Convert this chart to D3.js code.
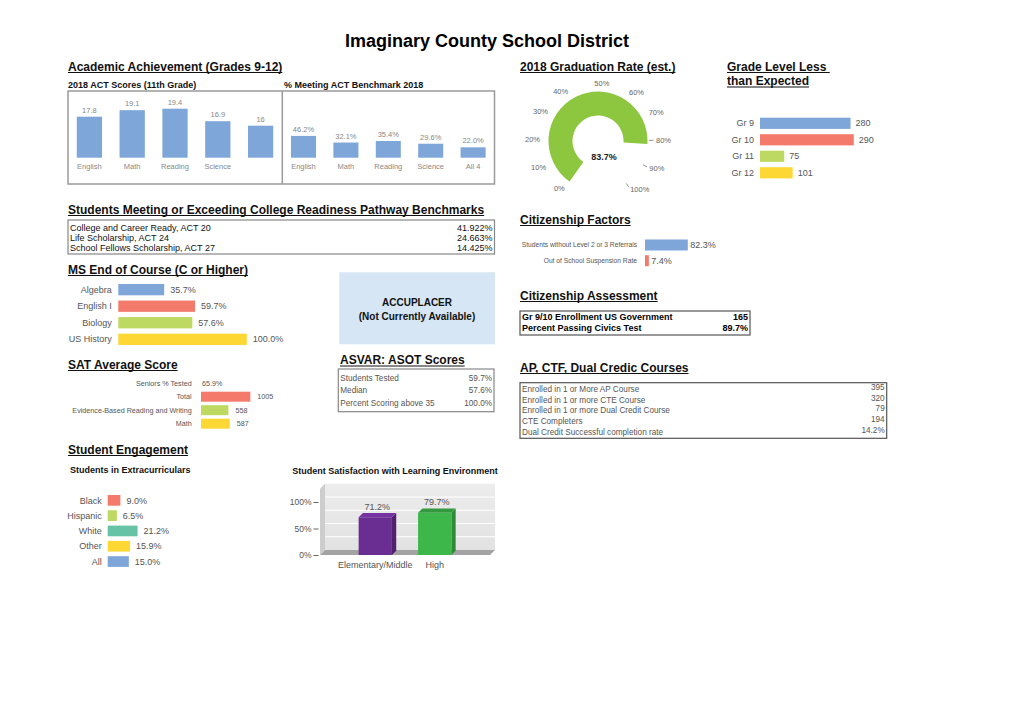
<!DOCTYPE html>
<html>
<head>
<meta charset="utf-8">
<script src="https://cdn.jsdelivr.net/npm/d3@7"></script>
<style>
  body { margin: 0; background: #fff; }
  svg { display: block; font-family: 'Liberation Sans', Arial, sans-serif; }
</style>
</head>
<body>
<svg id="chart" width="1024" height="720"></svg>
<script>
// ---- data ----
const actSubjects = ['English', 'Math', 'Reading', 'Science', ''];
const actScores = [17.8, 19.1, 19.4, 16.9, 16];
const benchSubjects = ['English', 'Math', 'Reading', 'Science', 'All 4'];
const benchPct = [46.2, 32.1, 35.4, 29.6, 22.0];

const gradRate = 83.7;
const gaugeTicks = [0, 10, 20, 30, 40, 50, 60, 70, 80, 90, 100];
const gaugeLeaders = [80, 90, 100];

const gradeLevels = ['Gr 9', 'Gr 10', 'Gr 11', 'Gr 12'];
const gradeCounts = [280, 290, 75, 101];

const readinessLabels = ['College and Career Ready, ACT 20', 'Life Scholarship, ACT 24', 'School Fellows Scholarship, ACT 27'];
const readinessPct = [41.922, 24.663, 14.425];

const msCourses = ['Algebra', 'English I', 'Biology', 'US History'];
const msPct = [35.7, 59.7, 57.6, 100.0];

const citizenLabels = ['Students without Level 2 or 3 Referrals', 'Out of School Suspension Rate'];
const citizenPct = [82.3, 7.4];

const assessLabels = ['Gr 9/10 Enrollment US Government', 'Percent Passing Civics Test'];
const assessValues = ['165', '89.7%'];

const satLabels = ['Seniors % Tested', 'Total', 'Evidence-Based Reading and Writing', 'Math'];
const satTested = 65.9;
const satScores = [1005, 558, 587];

const asvarLabels = ['Students Tested', 'Median', 'Percent Scoring above 35'];
const asvarPct = [59.7, 57.6, 100.0];

const apLabels = ['Enrolled in 1 or More AP Course', 'Enrolled in 1 or more CTE Course', 'Enrolled in 1 or more Dual Credit Course', 'CTE Completers', 'Dual Credit Successful completion rate'];
const apValues = ['395', '320', '79', '194', '14.2%'];

const extraGroups = ['Black', 'Hispanic', 'White', 'Other', 'All'];
const extraPct = [9.0, 6.5, 21.2, 15.9, 15.0];

const satisfGroups = ['Elementary/Middle', 'High'];
const satisfPct = [71.2, 79.7];

// colours
const blue = '#7ea6d9', red = '#f47a6b', lime = '#bdd961', yellow = '#fdd835', teal = '#66c3a5';
const fourColors = [blue, red, lime, yellow];

const svg = d3.select('#chart');
svg.append('rect').attr('width', 1024).attr('height', 720).attr('fill', '#fff');

const pct1 = d => d3.format('.1f')(d) + '%';

// ---- helpers ----
function heading(text, x, y, size = 12) {
  const t = svg.append('text')
    .attr('x', x).attr('y', y)
    .attr('font-size', size).attr('font-weight', 'bold').attr('fill', '#111')
    .text(text);
  const w = t.node().getComputedTextLength();
  svg.append('line')
    .attr('x1', x).attr('x2', x + w)
    .attr('y1', y + 2).attr('y2', y + 2)
    .attr('stroke', '#111').attr('stroke-width', 1.2);
}

function subTitle(text, x, y, anchor = 'start') {
  svg.append('text')
    .attr('x', x).attr('y', y).attr('text-anchor', anchor)
    .attr('font-size', 9).attr('font-weight', 'bold').attr('fill', '#111')
    .text(text);
}

function rowBand(n, top, step, barH) {
  const pad = (step - barH) / 2;
  return d3.scaleBand()
    .domain(d3.range(n))
    .range([top - pad, top - pad + n * step])
    .paddingInner(1 - barH / step)
    .paddingOuter((1 - barH / step) / 2);
}

function hBars(o) {
  const y = rowBand(o.labels.length, o.top, o.step, o.barH);
  const g = svg.append('g');
  g.selectAll('rect').data(o.values).join('rect')
    .attr('x', o.x0)
    .attr('y', (d, i) => y(i))
    .attr('width', d => o.scale(d))
    .attr('height', y.bandwidth())
    .attr('fill', (d, i) => o.colors[i]);
  g.selectAll('.lab').data(o.labels).join('text')
    .attr('class', 'lab')
    .attr('x', o.x0 - o.labelGap)
    .attr('y', (d, i) => y(i) + y.bandwidth() / 2)
    .attr('dy', '0.35em')
    .attr('text-anchor', 'end')
    .attr('font-size', o.labelSize)
    .attr('fill', '#555')
    .text(d => d);
  g.selectAll('.val').data(o.values).join('text')
    .attr('class', 'val')
    .attr('x', d => o.x0 + o.scale(d) + o.valueGap)
    .attr('y', (d, i) => y(i) + y.bandwidth() / 2)
    .attr('dy', '0.35em')
    .attr('font-size', o.valueSize)
    .attr('fill', '#555')
    .text(o.fmt);
}

function table(o) {
  svg.append('rect')
    .attr('x', o.x).attr('y', o.y).attr('width', o.w).attr('height', o.h)
    .attr('fill', 'none').attr('stroke', o.stroke || '#888').attr('stroke-width', 1.2);
  const g = svg.append('g')
    .attr('font-size', o.size)
    .attr('font-weight', o.bold ? 'bold' : null)
    .attr('fill', o.color);
  g.selectAll('.lab').data(o.labels).join('text')
    .attr('class', 'lab')
    .attr('x', o.x + 2)
    .attr('y', (d, i) => o.first + i * o.step)
    .attr('dy', '0.35em')
    .text(d => d);
  g.selectAll('.val').data(o.values).join('text')
    .attr('class', 'val')
    .attr('x', o.x + o.w - 2)
    .attr('y', (d, i) => o.first + i * o.step + (o.valShift || 0))
    .attr('dy', '0.35em')
    .attr('text-anchor', 'end')
    .text(o.fmt || (d => d));
}

// ---- title ----
svg.append('text')
  .attr('x', 487).attr('y', 47)
  .attr('text-anchor', 'middle')
  .attr('font-size', 18).attr('font-weight', 'bold').attr('fill', '#000')
  .text('Imaginary County School District');

// ---- academic achievement ----
heading('Academic Achievement (Grades 9-12)', 68, 70.5);
subTitle('2018 ACT Scores (11th Grade)', 68, 88);
subTitle('% Meeting ACT Benchmark 2018', 284, 88);

svg.append('rect')
  .attr('x', 68).attr('y', 91).attr('width', 426.5).attr('height', 93)
  .attr('fill', 'none').attr('stroke', '#9a9a9a').attr('stroke-width', 1.5);
svg.append('line')
  .attr('x1', 282.3).attr('x2', 282.3).attr('y1', 91).attr('y2', 184)
  .attr('stroke', '#9a9a9a').attr('stroke-width', 1.5);

function vBars(labels, values, x, y, fmt) {
  const g = svg.append('g');
  g.selectAll('rect').data(values).join('rect')
    .attr('x', (d, i) => x(i))
    .attr('y', d => y(d))
    .attr('width', x.bandwidth())
    .attr('height', d => y.range()[0] - y(d))
    .attr('fill', blue);
  g.selectAll('.val').data(values).join('text')
    .attr('class', 'val')
    .attr('x', (d, i) => x(i) + x.bandwidth() / 2)
    .attr('y', d => y(d) - 4)
    .attr('text-anchor', 'middle')
    .attr('font-size', 7.5).attr('fill', '#888')
    .text(fmt);
  g.selectAll('.cat').data(labels).join('text')
    .attr('class', 'cat')
    .attr('x', (d, i) => x(i) + x.bandwidth() / 2)
    .attr('y', 168.5)
    .attr('text-anchor', 'middle')
    .attr('font-size', 7.5).attr('fill', '#888')
    .text(d => d);
}

const actX = d3.scaleBand().domain(d3.range(actScores.length)).range([68, 282]).paddingInner(0.41).paddingOuter(0.205);
const actY = d3.scaleLinear().domain([9.6, 21]).range([157.7, 100.7]);
vBars(actSubjects, actScores, actX, actY, d => d);

const benchX = d3.scaleBand().domain(d3.range(benchPct.length)).range([282.3, 494.3]).paddingInner(0.41).paddingOuter(0.205);
const benchY = d3.scaleLinear().domain([0, 100]).range([157.7, 110.5]);
vBars(benchSubjects, benchPct, benchX, benchY, pct1);

// ---- graduation gauge ----
heading('2018 Graduation Rate (est.)', 520, 70.5);
const gc = [598, 141];
const rad = Math.PI / 180;
const gaugeAngle = d3.scaleLinear().domain([0, 100]).range([-145 * rad, 140 * rad]);
const labelAngle = p => gaugeAngle(p) + (p >= 50 ? 6.3 * rad : 0);
const gauge = svg.append('g').attr('transform', `translate(${gc[0]},${gc[1]})`);
gauge.append('path')
  .attr('d', d3.arc().innerRadius(25.5).outerRadius(49.5)
    .startAngle(gaugeAngle(0)).endAngle(gaugeAngle(gradRate))())
  .attr('fill', '#8dc63f');
gauge.selectAll('.gt').data(gaugeTicks).join('text')
  .attr('class', 'gt')
  .attr('x', p => 58 * Math.sin(labelAngle(p)))
  .attr('y', p => -58 * Math.cos(labelAngle(p)))
  .attr('dy', '0.35em')
  .attr('text-anchor', p => {
    const s = Math.sin(labelAngle(p));
    return s > 0.15 ? 'start' : s < -0.15 ? 'end' : 'middle';
  })
  .attr('font-size', 7.5).attr('fill', '#666')
  .text(p => p + '%');
gauge.selectAll('.gl').data(gaugeLeaders).join('line')
  .attr('class', 'gl')
  .attr('x1', p => 51 * Math.sin(labelAngle(p)))
  .attr('y1', p => -51 * Math.cos(labelAngle(p)))
  .attr('x2', p => 55.5 * Math.sin(labelAngle(p)))
  .attr('y2', p => -55.5 * Math.cos(labelAngle(p)))
  .attr('stroke', '#777').attr('stroke-width', 0.8);
gauge.append('text')
  .attr('x', 6).attr('y', 16).attr('dy', '0.35em')
  .attr('text-anchor', 'middle')
  .attr('font-size', 9).attr('font-weight', 'bold').attr('fill', '#222')
  .text(pct1(gradRate));

// ---- grade level ----
heading('Grade Level Less\u00a0', 727, 70.5);
heading('than Expected', 727, 85);
hBars({
  labels: gradeLevels, values: gradeCounts, colors: fourColors,
  x0: 760, top: 117.7, step: 16.5, barH: 11.2,
  scale: d3.scaleLinear().domain([0, 300]).range([0, 97]),
  labelGap: 6, valueGap: 5, labelSize: 9, valueSize: 9, fmt: d => d
});

// ---- college readiness ----
heading('Students Meeting or Exceeding College Readiness Pathway Benchmarks', 68, 213.5);
table({
  x: 68, y: 220, w: 426.5, h: 34, labels: readinessLabels, values: readinessPct,
  first: 228, step: 10, size: 9, color: '#111', stroke: '#888',
  fmt: d => d3.format('.3f')(d) + '%'
});

// ---- MS end of course ----
heading('MS End of Course (C or Higher)', 68, 273.5);
hBars({
  labels: msCourses, values: msPct, colors: fourColors,
  x0: 118.3, top: 284, step: 16.55, barH: 11.3,
  scale: d3.scaleLinear().domain([0, 100]).range([0, 128.5]),
  labelGap: 6.5, valueGap: 6, labelSize: 9, valueSize: 9, fmt: pct1
});

// ---- accuplacer ----
svg.append('rect')
  .attr('x', 339.3).attr('y', 272.3).attr('width', 155.7).attr('height', 72)
  .attr('fill', '#d6e6f5');
svg.append('text')
  .attr('x', 417).attr('y', 302).attr('dy', '0.35em').attr('text-anchor', 'middle')
  .attr('font-size', 10).attr('font-weight', 'bold').attr('fill', '#111')
  .text('ACCUPLACER');
svg.append('text')
  .attr('x', 417).attr('y', 316).attr('dy', '0.35em').attr('text-anchor', 'middle')
  .attr('font-size', 10).attr('font-weight', 'bold').attr('fill', '#111')
  .text('(Not Currently Available)');

// ---- citizenship ----
heading('Citizenship Factors', 520, 223.5);
hBars({
  labels: citizenLabels, values: citizenPct, colors: [blue, red],
  x0: 645, top: 239.5, step: 15.7, barH: 11,
  scale: d3.scaleLinear().domain([0, 100]).range([0, 52]),
  labelGap: 8, valueGap: 2.5, labelSize: 6.7, valueSize: 9, fmt: pct1
});

heading('Citizenship Assessment', 520, 299.5);
table({
  x: 520, y: 311, w: 230, h: 24, labels: assessLabels, values: assessValues,
  first: 316.5, step: 11, size: 9, bold: true, color: '#000', stroke: '#555'
});

// ---- SAT ----
heading('SAT Average Score', 68, 368.5);
{
  const y = rowBand(satLabels.length, 378.2, 13.5, 10);
  const x = d3.scaleLinear().domain([0, 1100]).range([0, 54]);
  const x0 = 201;
  const g = svg.append('g').attr('font-size', 7.2).attr('fill', '#555');
  g.selectAll('.lab').data(satLabels).join('text')
    .attr('class', 'lab')
    .attr('x', x0 - 9.3)
    .attr('y', (d, i) => y(i) + y.bandwidth() / 2)
    .attr('dy', '0.35em').attr('text-anchor', 'end')
    .text(d => d);
  g.append('text')
    .attr('x', x0 + 1).attr('y', y(0) + y.bandwidth() / 2).attr('dy', '0.35em')
    .text(pct1(satTested));
  g.selectAll('rect').data(satScores).join('rect')
    .attr('x', x0)
    .attr('y', (d, i) => y(i + 1))
    .attr('width', d => x(d))
    .attr('height', y.bandwidth())
    .attr('fill', (d, i) => [red, lime, yellow][i]);
  g.selectAll('.val').data(satScores).join('text')
    .attr('class', 'val')
    .attr('x', d => x0 + x(d) + 7)
    .attr('y', (d, i) => y(i + 1) + y.bandwidth() / 2)
    .attr('dy', '0.35em')
    .text(d => d);
}

// ---- ASVAR ----
heading('ASVAR: ASOT Scores', 340, 364);
table({
  x: 338.3, y: 369, w: 155.7, h: 42.7, labels: asvarLabels, values: asvarPct,
  first: 377.7, step: 12.8, size: 8.2, color: '#555', stroke: '#888', fmt: pct1
});

// ---- AP / CTE ----
heading('AP, CTF, Dual Credic Courses', 520, 371.5);
table({
  x: 520, y: 382.7, w: 366.7, h: 55.6, labels: apLabels, values: apValues,
  first: 389.3, step: 10.6, size: 8.2, color: '#555', stroke: '#555', valShift: -2
});

// ---- student engagement ----
heading('Student Engagement', 68, 453.5);
subTitle('Students in Extracurriculars', 70, 473);
hBars({
  labels: extraGroups, values: extraPct, colors: [red, lime, teal, yellow, blue],
  x0: 107.7, top: 495, step: 15.3, barH: 10.7,
  scale: d3.scaleLinear().domain([0, 22]).range([0, 31]),
  labelGap: 6, valueGap: 6, labelSize: 9, valueSize: 9, fmt: pct1
});

// ---- student satisfaction (3D bars) ----
subTitle('Student Satisfaction with Learning Environment', 395, 473.5, 'middle');
{
  const sx = d3.scaleBand().domain(satisfGroups).range([320, 490]).paddingInner(0.44).paddingOuter(0.65);
  const sy = d3.scaleLinear().domain([0, 125]).range([555, 488.75]);
  const wd = 5, bd = 4.3;
  const [xl, xr] = sx.range();
  const defs = svg.append('defs');
  const grad = defs.append('linearGradient').attr('id', 'wall').attr('x1', 0).attr('x2', 0).attr('y1', 0).attr('y2', 1);
  grad.append('stop').attr('offset', 0).attr('stop-color', '#ececec');
  grad.append('stop').attr('offset', 1).attr('stop-color', '#e2e2e2');
  const g = svg.append('g');
  g.append('rect')
    .attr('x', xl + wd).attr('y', sy(125) - wd)
    .attr('width', xr - xl).attr('height', sy(0) - sy(125))
    .attr('fill', 'url(#wall)');
  g.selectAll('.grid').data([25, 50, 75, 100]).join('line')
    .attr('class', 'grid')
    .attr('x1', xl + wd).attr('x2', xr + wd)
    .attr('y1', d => sy(d) - wd).attr('y2', d => sy(d) - wd)
    .attr('stroke', '#fff').attr('stroke-width', 1);
  g.append('polygon')
    .attr('points', [[xl, sy(0)], [xl, sy(125)], [xl + wd, sy(125) - wd], [xl + wd, sy(0) - wd]].join(' '))
    .attr('fill', '#cdcdcd');
  g.append('polygon')
    .attr('points', [[xl, sy(0)], [xr, sy(0)], [xr + wd, sy(0) - wd], [xl + wd, sy(0) - wd]].join(' '))
    .attr('fill', '#a3a3a3');

  const axis = d3.axisLeft(sy).tickValues([0, 50, 100]).tickSize(5).tickPadding(2).tickFormat(d => d + '%');
  const ax = g.append('g').attr('transform', `translate(${xl - 1.5},0)`).call(axis);
  ax.select('.domain').remove();
  ax.selectAll('line').attr('stroke', '#666');
  ax.selectAll('text').attr('font-size', 8.5).attr('fill', '#555').attr('font-family', null);

  const barColors = ['#6a2d91', '#3db64a'];
  satisfPct.forEach((v, i) => {
    const x = sx(satisfGroups[i]), w = sx.bandwidth(), y0 = sy(0), y = sy(v);
    const c = d3.color(barColors[i]);
    g.append('polygon')
      .attr('points', [[x + w, y], [x + w + bd, y - bd], [x + w + bd, y0 - bd], [x + w, y0]].join(' '))
      .attr('fill', c.darker(0.8));
    g.append('polygon')
      .attr('points', [[x, y], [x + w, y], [x + w + bd, y - bd], [x + bd, y - bd]].join(' '))
      .attr('fill', i === 0 ? c.brighter(0.3) : c.darker(0.5));
    g.append('rect')
      .attr('x', x).attr('y', y).attr('width', w).attr('height', y0 - y)
      .attr('fill', c);
    g.append('text')
      .attr('x', x + w / 2 + 2).attr('y', y - bd - 3)
      .attr('text-anchor', 'middle')
      .attr('font-size', 9).attr('fill', '#555')
      .text(pct1(v));
    g.append('text')
      .attr('x', x + w / 2).attr('y', 568)
      .attr('text-anchor', 'middle')
      .attr('font-size', 9).attr('fill', '#555')
      .text(satisfGroups[i]);
  });
}
</script>
</body>
</html>
